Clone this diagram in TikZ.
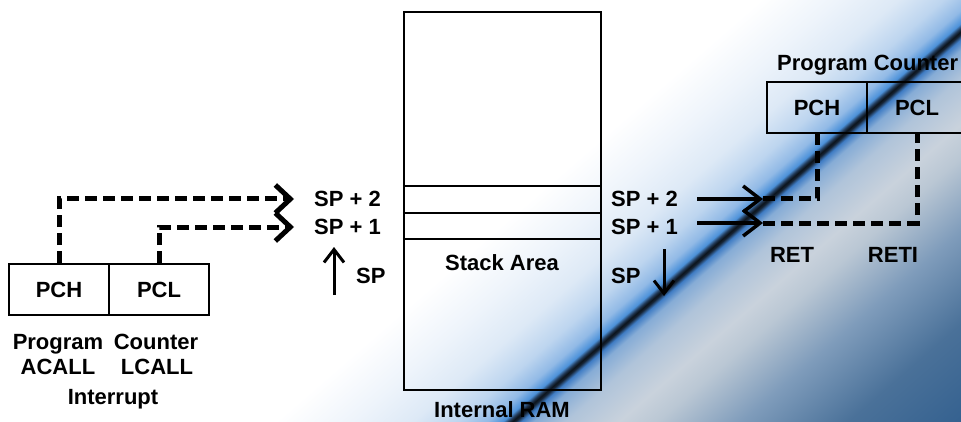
\documentclass[tikz,border=0pt]{standalone}
\usepackage{fontspec}
\setmainfont{Liberation Sans}
\usetikzlibrary{arrows.meta}
\definecolor{b0}{HTML}{2C5886}
\definecolor{b1}{HTML}{33608F}
\definecolor{b2}{HTML}{4A7199}
\definecolor{b3}{HTML}{7F9CBB}
\definecolor{b4}{HTML}{BAC7D4}
\definecolor{b5}{HTML}{C9D2DC}
\definecolor{b6}{HTML}{B0C4DA}
\definecolor{b7}{HTML}{86ACD6}
\definecolor{b8}{HTML}{3F7CC4}
\definecolor{b9}{HTML}{152232}
\definecolor{b10}{HTML}{0C141C}
\definecolor{b11}{HTML}{223A58}
\definecolor{b12}{HTML}{4D92DA}
\definecolor{b13}{HTML}{92BAE6}
\definecolor{b14}{HTML}{BDD5EF}
\definecolor{b15}{HTML}{DDE9F6}
\definecolor{b16}{HTML}{EEF4FB}
\pgfdeclareverticalshading{bgshade}{1400bp}{%
color(0bp)=(b0); color(420bp)=(b1); color(500bp)=(b2); color(570bp)=(b3);
color(625bp)=(b4); color(650bp)=(b5); color(685bp)=(b6); color(706bp)=(b7);
color(714bp)=(b8); color(718bp)=(b9); color(720bp)=(b10); color(722.5bp)=(b11);
color(726bp)=(b12); color(736bp)=(b13); color(755bp)=(b14); color(785bp)=(b15);
color(825bp)=(b16); color(875bp)=(white); color(1440bp)=(white)}
\begin{document}
\begin{tikzpicture}[x=1pt,y=1pt,
  lbl/.style={inner sep=0pt, text height=15.5pt, text depth=0pt,
    font=\fontsize{22}{25}\selectfont\bfseries},
  cell/.style={draw, line width=2pt, minimum width=100pt, minimum height=51pt,
    inner sep=0pt, text height=15.5pt, text depth=0pt,
    font=\fontsize{22}{25}\selectfont\bfseries},
  ramline/.style={line width=2.2pt},
  dline/.style={line width=5pt, dash pattern=on 12pt off 6pt},
  lchev/.style={-{Straight Barb[length=15pt,width=28pt]}},
  rchev/.style={line width=3.5pt, -{Straight Barb[length=17pt,width=26pt]}},
  vchev/.style={line width=3pt, -{Straight Barb[length=13pt,width=20pt]}}]
\useasboundingbox (0,0) rectangle (961,421);
\clip (0,0) rectangle (961,421);
\node[rotate=41, inner sep=0pt] (bg) at (600,76) {\pgfuseshading{bgshade}};

% Internal RAM
\node[draw, ramline, minimum width=197pt, minimum height=378pt, inner sep=0pt] (ram) at (502.5,220) {};
\draw[ramline] (ram.west |- 0,235) -- (ram.east |- 0,235);
\draw[ramline] (ram.west |- 0,208) -- (ram.east |- 0,208);
\draw[ramline] (ram.west |- 0,182) -- (ram.east |- 0,182);
\node[lbl] (stack) at (502,158) {Stack Area};
\node[lbl] (iram) at (502,11.5) {Internal RAM};

% left side
\node[cell] (lpch) at (59,131.5) {PCH};
\node[cell] (lpcl) at (159,131.5) {PCL};
\node[lbl] (lprog) at (58,79) {Program};
\node[lbl] (lcount) at (156,79) {Counter};
\node[lbl] (lacall) at (58,54) {ACALL};
\node[lbl] (llcall) at (157,54) {LCALL};
\node[lbl] (lint) at (113,24) {Interrupt};

\node[lbl, anchor=west] (lsp2) at (314,222) {SP + 2};
\node[lbl, anchor=west] (lsp1) at (314,194) {SP + 1};
\node[lbl, anchor=west] (lsp) at (356,145) {SP};
\coordinate (lt2) at (294,222);
\coordinate (lt1) at (294,194);
\draw[dline, lchev] (lpch.north) |- (lt2);
\draw[dline, lchev] (lpcl.north) |- (lt1);
\coordinate (lupa) at (334,126);
\coordinate (lupb) at (334,174);
\draw[vchev] (lupa) -- (lupb);

% right side
\node[lbl, anchor=west] (rsp2) at (611,222) {SP + 2};
\node[lbl, anchor=west] (rsp1) at (611,194) {SP + 1};
\node[lbl, anchor=west] (rsp) at (611,145) {SP};
\coordinate (rdna) at (664,172);
\coordinate (rdnb) at (664,125);
\draw[vchev] (rdna) -- (rdnb);

\node[cell] (rpch) at (817,313) {PCH};
\node[cell] (rpcl) at (917,313) {PCL};
\node[lbl, anchor=west] (rprog) at (777,358) {Program Counter};
\coordinate (rs2) at (697,222);
\coordinate (rs1) at (697,198);
\coordinate (rt2) at (763,222);
\coordinate (rt1) at (763,198);
\draw[rchev] (rs2) -- (rt2);
\draw[rchev] (rs1) -- (rt1);
\draw[dline] (rt2) -| (rpch.south);
\draw[dline] (rt1) -| (rpcl.south);
\node[lbl] (ret) at (792,166) {RET};
\node[lbl] (reti) at (893,166) {RETI};
\end{tikzpicture}
\end{document}
